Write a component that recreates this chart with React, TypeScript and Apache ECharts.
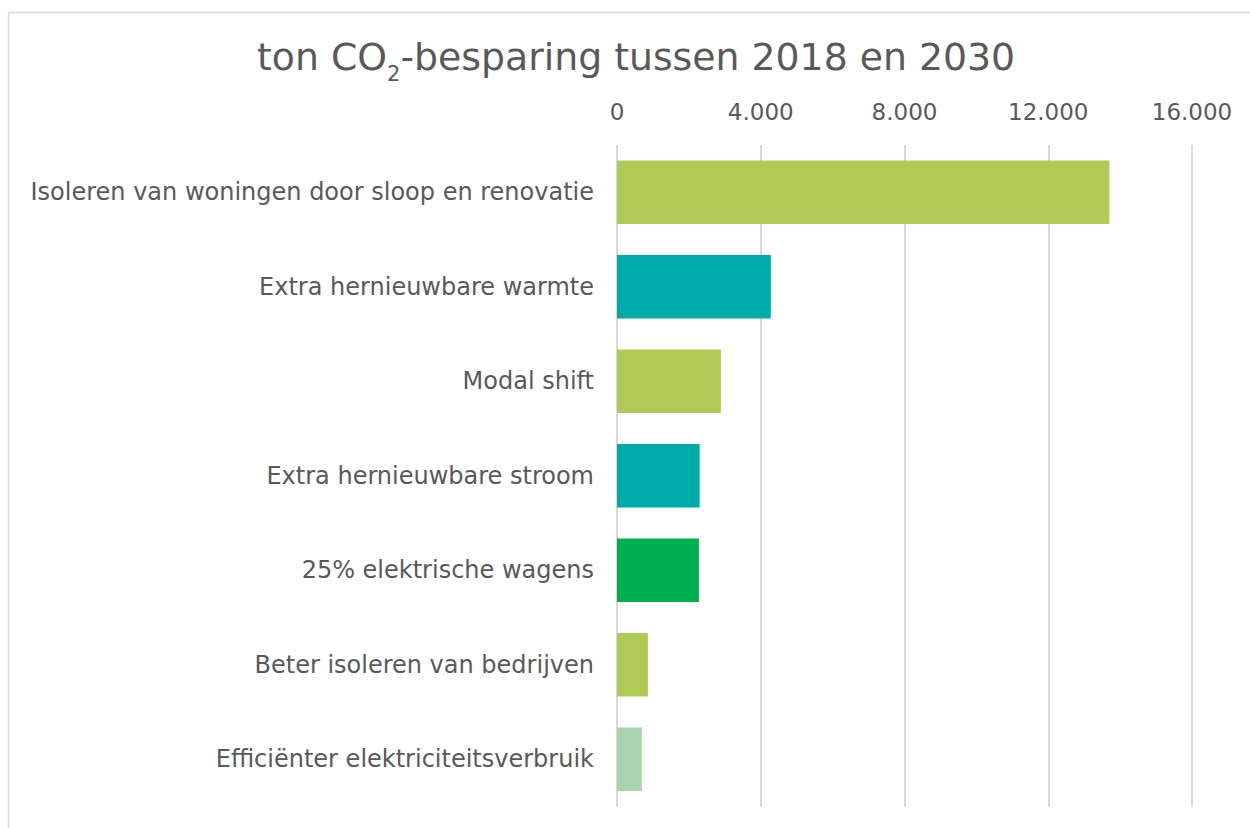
import React, { useEffect, useRef } from "react";
import * as echarts from "echarts";

const categories = [
  "Isoleren van woningen door sloop en renovatie",
  "Extra hernieuwbare warmte",
  "Modal shift",
  "Extra hernieuwbare stroom",
  "25% elektrische wagens",
  "Beter isoleren van bedrijven",
  "Efficiënter elektriciteitsverbruik",
];
const values = [13700, 4280, 2890, 2300, 2280, 860, 690];
const barColors = ["#B0CB55", "#00ABAB", "#B0CB55", "#00ABAB", "#00AF4F", "#B0CB55", "#A9D3AE"];
const tickMin = 0;
const tickMax = 16000;
const tickStep = 4000;

const FONT = "DejaVu Sans, Verdana, sans-serif";

export default function App() {
  const ref = useRef<HTMLDivElement>(null);
  useEffect(() => {
    if (!ref.current) return;
    const chart = echarts.init(ref.current, null, { renderer: "svg" });
    chart.setOption({
      animation: false,
      backgroundColor: "#ffffff",
      textStyle: { fontFamily: FONT },
      title: {
        text: "{a|ton CO}{s|2}{a|-besparing tussen 2018 en 2030}",
        left: 252,
        top: 25,
        textStyle: {
          fontWeight: "normal",
          rich: {
            a: { fontFamily: FONT, fontSize: 37.8, fontWeight: "normal", color: "#595959", verticalAlign: "bottom", lineHeight: 46 },
            s: { fontFamily: FONT, fontSize: 21, fontWeight: "normal", color: "#595959", verticalAlign: "bottom", lineHeight: 34, padding: [0, 0, -8, 0] },
          },
        },
      },
      graphic: [
        {
          type: "rect",
          shape: { x: 8.5, y: 12.5, width: 1400, height: 1000 },
          style: { fill: "none", stroke: "#d9d9d9", lineWidth: 1.5 },
          silent: true,
          z: -1,
        },
      ],
      grid: { left: 617, right: 58, top: 145, bottom: 21.5, containLabel: false },
      xAxis: {
        type: "value",
        position: "top",
        min: tickMin,
        max: tickMax,
        interval: tickStep,
        axisLine: { show: false },
        axisTick: { show: false },
        splitLine: { lineStyle: { color: "#d9d9d9", width: 2 } },
        axisLabel: {
          color: "#595959",
          fontSize: 23,
          fontFamily: FONT,
          margin: 22,
          formatter: (v: number) => v.toLocaleString("nl-NL").replace(/,/g, "."),
        },
      },
      yAxis: {
        type: "category",
        inverse: true,
        data: categories,
        axisLine: { show: false },
        axisTick: { show: false },
        axisLabel: { color: "#595959", fontSize: 24, fontFamily: FONT, margin: 23 },
      },
      series: [
        {
          type: "bar",
          data: values.map((v, i) => ({ value: v, itemStyle: { color: barColors[i] } })),
          barCategoryGap: "33%",
        },
      ],
    });
    return () => chart.dispose();
  }, []);
  return <div ref={ref} style={{ position: "fixed", left: 0, top: 0, width: 1250, height: 828 }} />;
}
